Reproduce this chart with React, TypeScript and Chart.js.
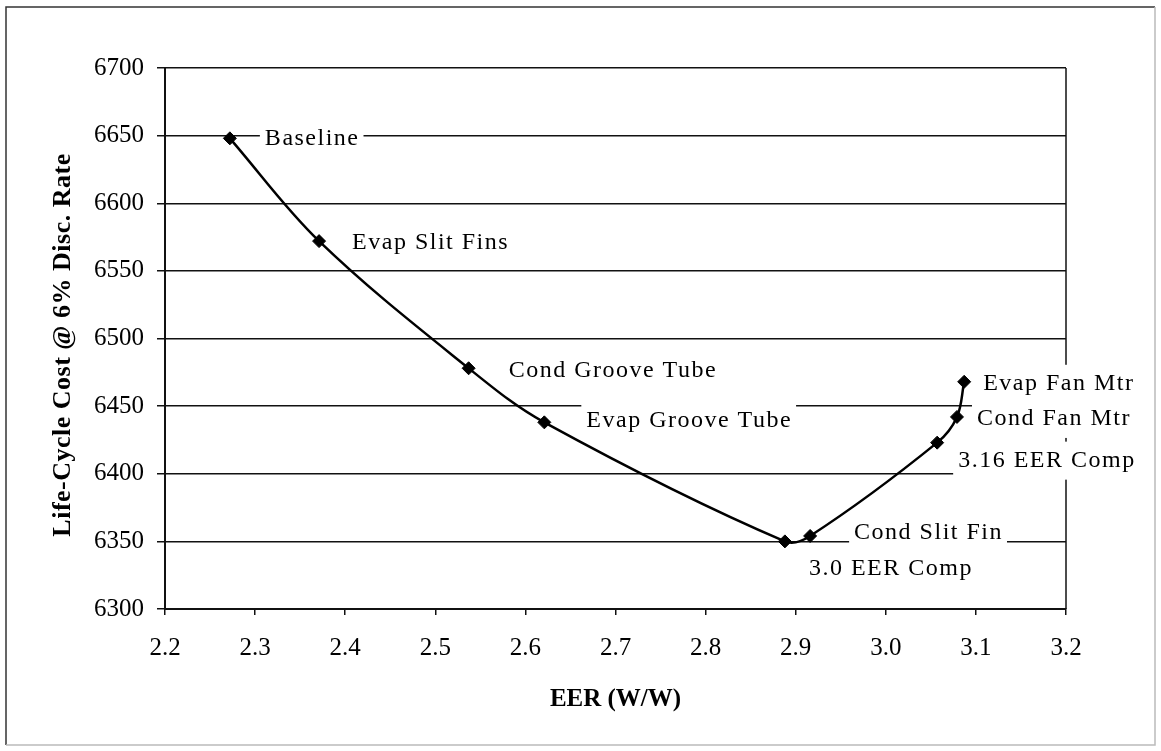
import React, { useEffect, useRef } from 'react';
import { Chart, registerables } from 'chart.js';

Chart.register(...registerables);

// ---- Data ----
const eer = [2.272, 2.371, 2.537, 2.621, 2.888, 2.916, 3.057, 3.079, 3.087];
const lifeCycleCost = [6648, 6572, 6478, 6438, 6350, 6354, 6423, 6442, 6468];
const pointLabels = [
  'Baseline',
  'Evap Slit Fins',
  'Cond Groove Tube',
  'Evap Groove Tube',
  '3.0 EER Comp',
  'Cond Slit Fin',
  '3.16 EER Comp',
  'Cond Fan Mtr',
  'Evap Fan Mtr',
];
const xMin = 2.2;
const xMax = 3.2;
const xStep = 0.1;
const yMin = 6300;
const yMax = 6700;
const yStep = 50;
const xTitle = 'EER (W/W)';
const yTitle = 'Life-Cycle Cost @ 6% Disc. Rate';

// ---- Layout (label offsets in px, relative to the point) ----
const labelOffsets = [
  { dx: 35, dy: 0 },
  { dx: 33, dy: 2 },
  { dx: 40, dy: 2 },
  { dx: 42, dy: -2 },
  { dx: 24, dy: 27 },
  { dx: 44, dy: -3 },
  { dx: 21, dy: 18 },
  { dx: 20, dy: 2 },
  { dx: 19, dy: 2 },
];

const SERIF = '"Liberation Serif", "Times New Roman", Times, serif';

const labelPlugin = {
  id: 'pointLabelsPlugin',
  beforeDatasetsDraw(chart: any) {
    const { ctx, chartArea } = chart;
    const xs = chart.scales.x;
    const ys = chart.scales.y;
    ctx.save();
    // right border of plot area
    ctx.strokeStyle = '#111';
    ctx.lineWidth = 1.5;
    ctx.beginPath();
    ctx.moveTo(chartArea.right, chartArea.top);
    ctx.lineTo(chartArea.right, chartArea.bottom);
    ctx.stroke();

    ctx.font = `24px ${SERIF}`;
    try { (ctx as any).letterSpacing = '1.5px'; } catch (e) {}
    ctx.textBaseline = 'middle';
    ctx.textAlign = 'left';
    pointLabels.forEach((t, i) => {
      const px = xs.getPixelForValue(eer[i]);
      const py = ys.getPixelForValue(lifeCycleCost[i]);
      const o = labelOffsets[i];
      const tx = px + o.dx;
      const ty = py + o.dy;
      const w = ctx.measureText(t).width;
      ctx.fillStyle = '#fff';
      ctx.fillRect(tx - 5, ty - 19, w + 9, 38);
      ctx.fillStyle = '#000';
      ctx.fillText(t, tx, ty);
    });
    ctx.restore();
  },
  afterDraw(chart: any) {
    const { ctx, chartArea, width, height } = chart;
    ctx.save();
    ctx.fillStyle = '#000';
    // y title
    ctx.font = `bold 26px ${SERIF}`;
    try { (ctx as any).letterSpacing = '0.5px'; } catch (e) {}
    ctx.textAlign = 'center';
    ctx.textBaseline = 'middle';
    ctx.translate(63, 345);
    ctx.rotate(-Math.PI / 2);
    ctx.fillText(yTitle, 0, 0);
    ctx.setTransform(1, 0, 0, 1, 0, 0);
    // x title
    ctx.font = `bold 25px ${SERIF}`;
    try { (ctx as any).letterSpacing = '0px'; } catch (e) {}
    ctx.fillText(xTitle, (chartArea.left + chartArea.right) / 2, 700);
    // outer frame
    ctx.lineWidth = 1.5;
    ctx.strokeStyle = '#333';
    ctx.beginPath();
    ctx.moveTo(6, 745);
    ctx.lineTo(6, 7);
    ctx.lineTo(width - 6, 7);
    ctx.stroke();
    ctx.strokeStyle = '#bbb';
    ctx.beginPath();
    ctx.moveTo(width - 6, 7);
    ctx.lineTo(width - 6, height - 6);
    ctx.lineTo(6, height - 6);
    ctx.stroke();
    ctx.restore();
  },
};

export default function App() {
  const ref = useRef<HTMLCanvasElement | null>(null);
  useEffect(() => {
    if (!ref.current) return;
    const chart = new Chart(ref.current, {
      type: 'line',
      data: {
        datasets: [
          {
            data: eer.map((x, i) => ({ x, y: lifeCycleCost[i] })),
            borderColor: '#000',
            borderWidth: 2.5,
            backgroundColor: '#000',
            pointStyle: 'rectRot',
            pointRadius: 6.5,
            pointBorderWidth: 1,
            pointBackgroundColor: '#000',
            pointBorderColor: '#000',
            tension: 0.35,
            fill: false,
          },
        ],
      },
      options: {
        responsive: false,
        animation: false,
        layout: { padding: { top: 68, right: 95, left: 0, bottom: 0 } },
        plugins: {
          legend: { display: false },
          tooltip: { enabled: false },
        },
        scales: {
          x: {
            type: 'linear',
            min: xMin,
            max: xMax,
            afterFit: (s: any) => { s.height = 142; },
            ticks: {
              stepSize: xStep,
              color: '#000',
              font: { family: SERIF, size: 25 },
              padding: 18,
              maxRotation: 0,
              callback: (v: any) => Number(v).toFixed(1),
            },
            grid: {
              drawOnChartArea: false,
              drawTicks: true,
              tickLength: 6,
              color: '#111',
              lineWidth: 1.5,
            },
            border: { display: true, color: '#111', width: 2 },
          },
          y: {
            type: 'linear',
            min: yMin,
            max: yMax,
            afterFit: (s: any) => { s.width = 165; },
            ticks: {
              stepSize: yStep,
              color: '#000',
              font: { family: SERIF, size: 25 },
              padding: 13,
              callback: (v: any) => String(v),
            },
            grid: {
              color: '#111',
              lineWidth: 1.5,
              tickLength: 8,
            },
            border: { display: true, color: '#111', width: 2 },
          },
        },
      },
      plugins: [labelPlugin],
    } as any);
    return () => chart.destroy();
  }, []);
  return (
    <div style={{ position: 'fixed', left: 0, top: 0, width: 1161, height: 751, background: '#fff' }}>
      <canvas ref={ref} width={1161} height={751} />
    </div>
  );
}
